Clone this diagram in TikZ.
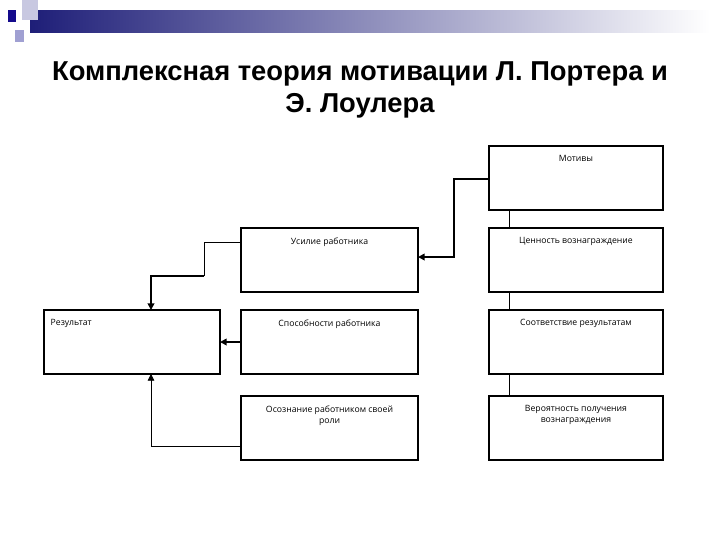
\documentclass[tikz,border=0pt]{standalone}
\usetikzlibrary{arrows.meta}
\usepackage{fontspec}
\setmainfont{Liberation Sans}
\newfontfamily\boxfont{Open Sans}
\begin{document}
\begin{tikzpicture}[x=0.75pt,y=-0.75pt,
  bx/.style={draw,line width=0.9pt},
  lbl/.style={font=\boxfont\fontsize{6.5}{8}\selectfont,align=center,anchor=north},
  thk/.style={line width=1.6pt},
  thn/.style={line width=0.6pt},
  tip/.style={-{Triangle[length=5pt,width=5pt]}}]
\useasboundingbox (0,0) rectangle (720,540);
\shade[left color={rgb,255:red,30;green,30;blue,120},right color=white] (30,10) rectangle (710,32);
\fill[fill={rgb,255:red,200;green,200;blue,225}] (22,0) rectangle (38,20);
\fill[fill={rgb,255:red,160;green,160;blue,210}] (15,30) rectangle (24,42);
\fill[fill={rgb,255:red,20;green,10;blue,140}] (8,10) rectangle (16,22);
\node[font=\bfseries\fontsize{20.5}{24}\selectfont,align=center] (title) at (360,90) {Комплексная теория мотивации Л. Портера и\\Э. Лоулера};
\draw[bx] (489,146) rectangle (663,210) coordinate (m2);
\coordinate (m1) at (489,146);
\node[lbl] (tm) at (576,151) {Мотивы};
\draw[bx] (241,228) rectangle (418,292); \node[lbl] (tu) at (329.5,233) {Усилие работника};
\draw[bx] (489,228) rectangle (663,292); \node[lbl] (tc) at (576,233) {Ценность вознаграждение};
\draw[bx] (44,310) rectangle (220,374); \node[lbl,anchor=north west] (tr) at (46,315) {Результат};
\draw[bx] (241,310) rectangle (418,374); \node[lbl] (ts) at (329.5,315) {Способности работника};
\draw[bx] (489,310) rectangle (663,374); \node[lbl] (tso) at (576,315) {Соответствие результатам};
\draw[bx] (241,396) rectangle (418,460); \node[lbl] (to) at (329.5,401) {Осознание работником своей\\роли};
\draw[bx] (489,396) rectangle (663,460); \node[lbl] (tv) at (576,401) {Вероятность получения\\вознаграждения};
\coordinate (a1) at (489,179); \coordinate (a2) at (418,257);
\draw[thk,tip] (a1) -- (454,179) -- (454,257) -- (a2);
\coordinate (b1) at (241,242); \coordinate (b2) at (151,310);
\draw[thn] (b1) -- (204,242) -- (204,276);
\draw[thk,tip] (204,276) -- (151,276) -- (b2);
\coordinate (c1) at (241,342); \coordinate (c2) at (220,342);
\draw[thk,tip] (c1) -- (c2);
\coordinate (d1) at (241,446); \coordinate (d2) at (151,374);
\draw[thn,tip] (d1) -- (151,446) -- (d2);
\draw[thn] (509,210) -- (509,228) (509,292) -- (509,310) (509,374) -- (509,396);
\end{tikzpicture}
\end{document}
